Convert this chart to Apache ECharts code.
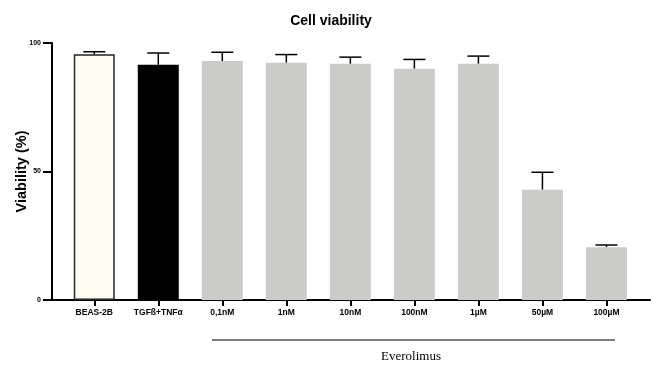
<!DOCTYPE html>
<html><head><meta charset="utf-8">
<script src="https://cdn.jsdelivr.net/npm/echarts@6/dist/echarts.min.js"></script>
<style>html,body{margin:0;padding:0;background:#fff}#c{width:659px;height:369px}</style>
</head><body><div id="c"></div>
<script>
var categories = ['BEAS-2B','TGFß+TNFα','0,1nM','1nM','10nM','100nM','1µM','50µM','100µM'];
var viability = [95.6, 91.5, 93.0, 92.3, 91.9, 90.0, 91.9, 42.9, 20.5];
var sd = [1.0, 4.6, 3.4, 3.2, 2.6, 3.6, 3.0, 6.8, 0.9];
var yTicks = [0, 50, 100];

var fills = categories.map(function(c,i){ return i===0 ? '#fdfdf3' : (i===1 ? '#000000' : '#cbcbc9'); });
var idx = categories.map(function(c,i){ return i; });

var chart = echarts.init(document.getElementById('c'));
var font = 'Liberation Sans, Arial, sans-serif';
chart.setOption({
  animation: false,
  title: { text: 'Cell viability', left: 326, textAlign: 'center', top: 9,
    textStyle: { fontFamily: font, fontSize: 14, fontWeight: 'bold', color: '#000' } },
  grid: { left: 52, right: 9, top: 43, bottom: 69, containLabel: false, outerBoundsMode: 'none' },
  xAxis: {
    type: 'value', min: -0.66, max: 8.68,
    splitLine: { show: false },
    axisLine: { show: true, onZero: false, lineStyle: { color: '#000', width: 2 } },
    axisTick: { show: true, customValues: idx, length: 6, lineStyle: { color: '#000', width: 2 } },
    axisLabel: { customValues: idx, margin: 8, fontFamily: font, fontSize: 8.5, fontWeight: 'bold', color: '#000',
      formatter: function(v){ return categories[Math.round(v)]; } }
  },
  yAxis: {
    type: 'value', min: 0, max: 100, interval: 50,
    name: 'Viability (%)', nameLocation: 'middle', nameGap: 23, nameRotate: 90, nameMoveOverlap: false,
    nameTextStyle: { fontFamily: font, fontSize: 14.5, fontWeight: 'bold', color: '#000' },
    splitLine: { show: false },
    axisLine: { show: true, onZero: false, lineStyle: { color: '#000', width: 2 } },
    axisTick: { show: true, length: 9, lineStyle: { color: '#000', width: 2 } },
    axisLabel: { margin: 11, fontFamily: font, fontSize: 7, fontWeight: 'bold', color: '#000',
      formatter: function(v){ return yTicks.indexOf(v) >= 0 ? String(v) : ''; } }
  },
  series: [
    { type: 'bar', barWidth: 41,
      data: viability.map(function(v,i){ return { value: [i, v],
        itemStyle: { color: fills[i], borderColor: i===0 ? '#222' : fills[i], borderWidth: i===0 ? 1.5 : 0 } }; }) },
    { type: 'custom', z: 1,
      data: viability.map(function(v,i){ return [i, v, v + sd[i]]; }),
      renderItem: function(params, api){
        var x = api.value(0);
        var p0 = api.coord([x, api.value(1)]);
        var p1 = api.coord([x, api.value(2)]);
        var hw = 11;
        return { type: 'group', children: [
          { type: 'line', shape: { x1: p0[0], y1: p0[1], x2: p1[0], y2: p1[1] }, style: { stroke: '#000', lineWidth: 1.5 } },
          { type: 'line', shape: { x1: p1[0]-hw, y1: p1[1], x2: p1[0]+hw, y2: p1[1] }, style: { stroke: '#000', lineWidth: 1.5 } }
        ]};
      }
    }
  ],
  graphic: [
    { type: 'line', shape: { x1: 212, y1: 340, x2: 615, y2: 340 }, style: { stroke: '#000', lineWidth: 1 } },
    { type: 'text', x: 411, y: 357, style: { text: 'Everolimus', fontFamily: 'Liberation Serif, Times New Roman, serif',
      fontSize: 13, fill: '#000', textAlign: 'center', textVerticalAlign: 'middle' } }
  ]
});
</script></body></html>
